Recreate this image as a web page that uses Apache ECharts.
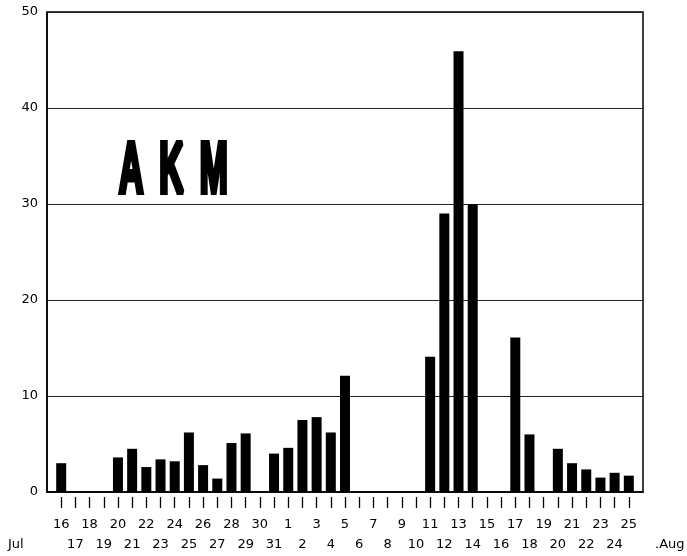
<!DOCTYPE html>
<html>
<head>
<meta charset="utf-8">
<script src="https://cdn.jsdelivr.net/npm/echarts@6/dist/echarts.min.js"></script>
<style>html,body{margin:0;padding:0;background:#fff;}#c{width:687px;height:556px;}</style>
</head>
<body>
<div id="c"></div>
<script>
// Days (Jul 16 .. Jul 31, Aug 1 .. Aug 25); blank padding slots at both ends
const days = ['', '16','17','18','19','20','21','22','23','24','25','26','27','28','29','30','31',
  '1','2','3','4','5','6','7','8','9','10','11','12','13','14','15','16','17','18','19','20','21','22','23','24','25', ''];
const counts = [null, 3.0, 0, 0, 0, 3.6, 4.5, 2.6, 3.4, 3.2, 6.2, 2.8, 1.4, 5.1, 6.1, 0, 4.0,
  4.6, 7.5, 7.8, 6.2, 12.1, 0, 0, 0, 0, 0, 14.1, 29.0, 45.9, 30.0, 0, 0, 16.1, 6.0, 0, 4.5, 3.0, 2.35, 1.5, 2.0, 1.7, null];
const yTicks = [0, 10, 20, 30, 40, 50];
const title = 'A \u2009K \u2009M';
const monthStart = 'Jul';
const monthEnd = '.Aug';

const chart = echarts.init(document.getElementById('c'));
const font = 'DejaVu Sans';
chart.setOption({
  animation: false,
  backgroundColor: '#fff',
  grid: { left: 47, right: 44, top: 12, bottom: 64, show: true, borderColor: '#000', borderWidth: 1.5, backgroundColor: 'transparent' },
  xAxis: [{
    type: 'category', data: days, boundaryGap: false,
    axisLine: { show: true, lineStyle: { color: '#000', width: 1.5 } },
    axisTick: { show: false }, axisLabel: { show: false }, splitLine: { show: false }
  }, {
    type: 'category', data: days, boundaryGap: false, position: 'bottom', offset: 5,
    axisLine: { show: false },
    axisTick: { show: true, length: 11, lineStyle: { color: '#000', width: 1.3 },
      interval: function (i, v) { return v !== ''; } },
    axisLabel: { show: true, interval: 0, color: '#000', fontFamily: font, fontSize: 13, margin: 18, lineHeight: 20,
      formatter: function (v, i) { if (v === '') return ''; return (i % 2 === 1) ? v : '\n' + v; } }
  }],
  yAxis: {
    type: 'value', min: yTicks[0], max: yTicks[yTicks.length - 1], interval: 10,
    axisLine: { show: true, lineStyle: { color: '#000', width: 1.5 } },
    axisTick: { show: false },
    axisLabel: { color: '#000', fontFamily: font, fontSize: 13, margin: 9 },
    splitLine: { show: true, lineStyle: { color: '#222', width: 1 } }
  },
  series: [{
    type: 'bar', data: counts, xAxisIndex: 0, barWidth: 10,
    itemStyle: { color: '#000' }
  }],
  graphic: [
    { type: 'text', left: 8, top: 538, style: { text: monthStart, fontSize: 13, fontFamily: font, fill: '#000' } },
    { type: 'text', left: 655, top: 538, style: { text: monthEnd, fontSize: 13, fontFamily: font, fill: '#000' } },
    { type: 'text', x: 119, y: 138, scaleX: 0.7, scaleY: 1.45,
      style: { text: title, fontSize: 48, fontWeight: 'bold', fontFamily: 'Liberation Sans', fill: '#000',
        stroke: '#000', lineWidth: 4, verticalAlign: 'top' } }
  ]
});
</script>
</body>
</html>
